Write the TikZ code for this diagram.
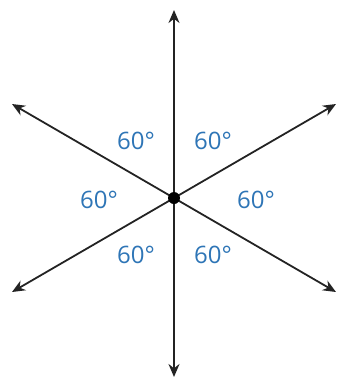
\documentclass[tikz,border=0pt]{standalone}
\usepackage{fontspec}
\setsansfont{Open Sans}
\usetikzlibrary{arrows.meta}
\definecolor{AngleBlue}{RGB}{46,117,182}
\definecolor{LineGray}{RGB}{35,35,35}

\begin{document}
\begin{tikzpicture}[
    x=1pt, y=-1pt,
    font=\sffamily,
    ray/.style={{Stealth[length=13pt, width=11pt]}-{Stealth[length=13pt, width=11pt]},
        line width=1.8pt, LineGray},
    ang/.style={text=AngleBlue, inner sep=0pt, font=\sffamily\fontsize{24}{24}\selectfont},
    dot/.style={circle, fill=black, inner sep=0pt, minimum size=12pt},
]
\useasboundingbox (0,0) rectangle (338,384);

% ends of the three lines
\coordinate (top) at (174,10);
\coordinate (bot) at (174,377);
\coordinate (ul)  at (12,104);
\coordinate (lr)  at (336,292);
\coordinate (ur)  at (336,104);
\coordinate (ll)  at (12,292);

\draw[ray] (top) -- (bot);
\draw[ray] (ul) -- (lr);
\draw[ray] (ur) -- (ll);

\node[dot] (o) at (174,198) {};

% angle labels
\node[ang] (a1) at (136,141) {60°};
\node[ang] (a2) at (213,141) {60°};
\node[ang] (a3) at (99,200)  {60°};
\node[ang] (a4) at (256,200) {60°};
\node[ang] (a5) at (136,255) {60°};
\node[ang] (a6) at (213,255) {60°};

\end{tikzpicture}
\end{document}
